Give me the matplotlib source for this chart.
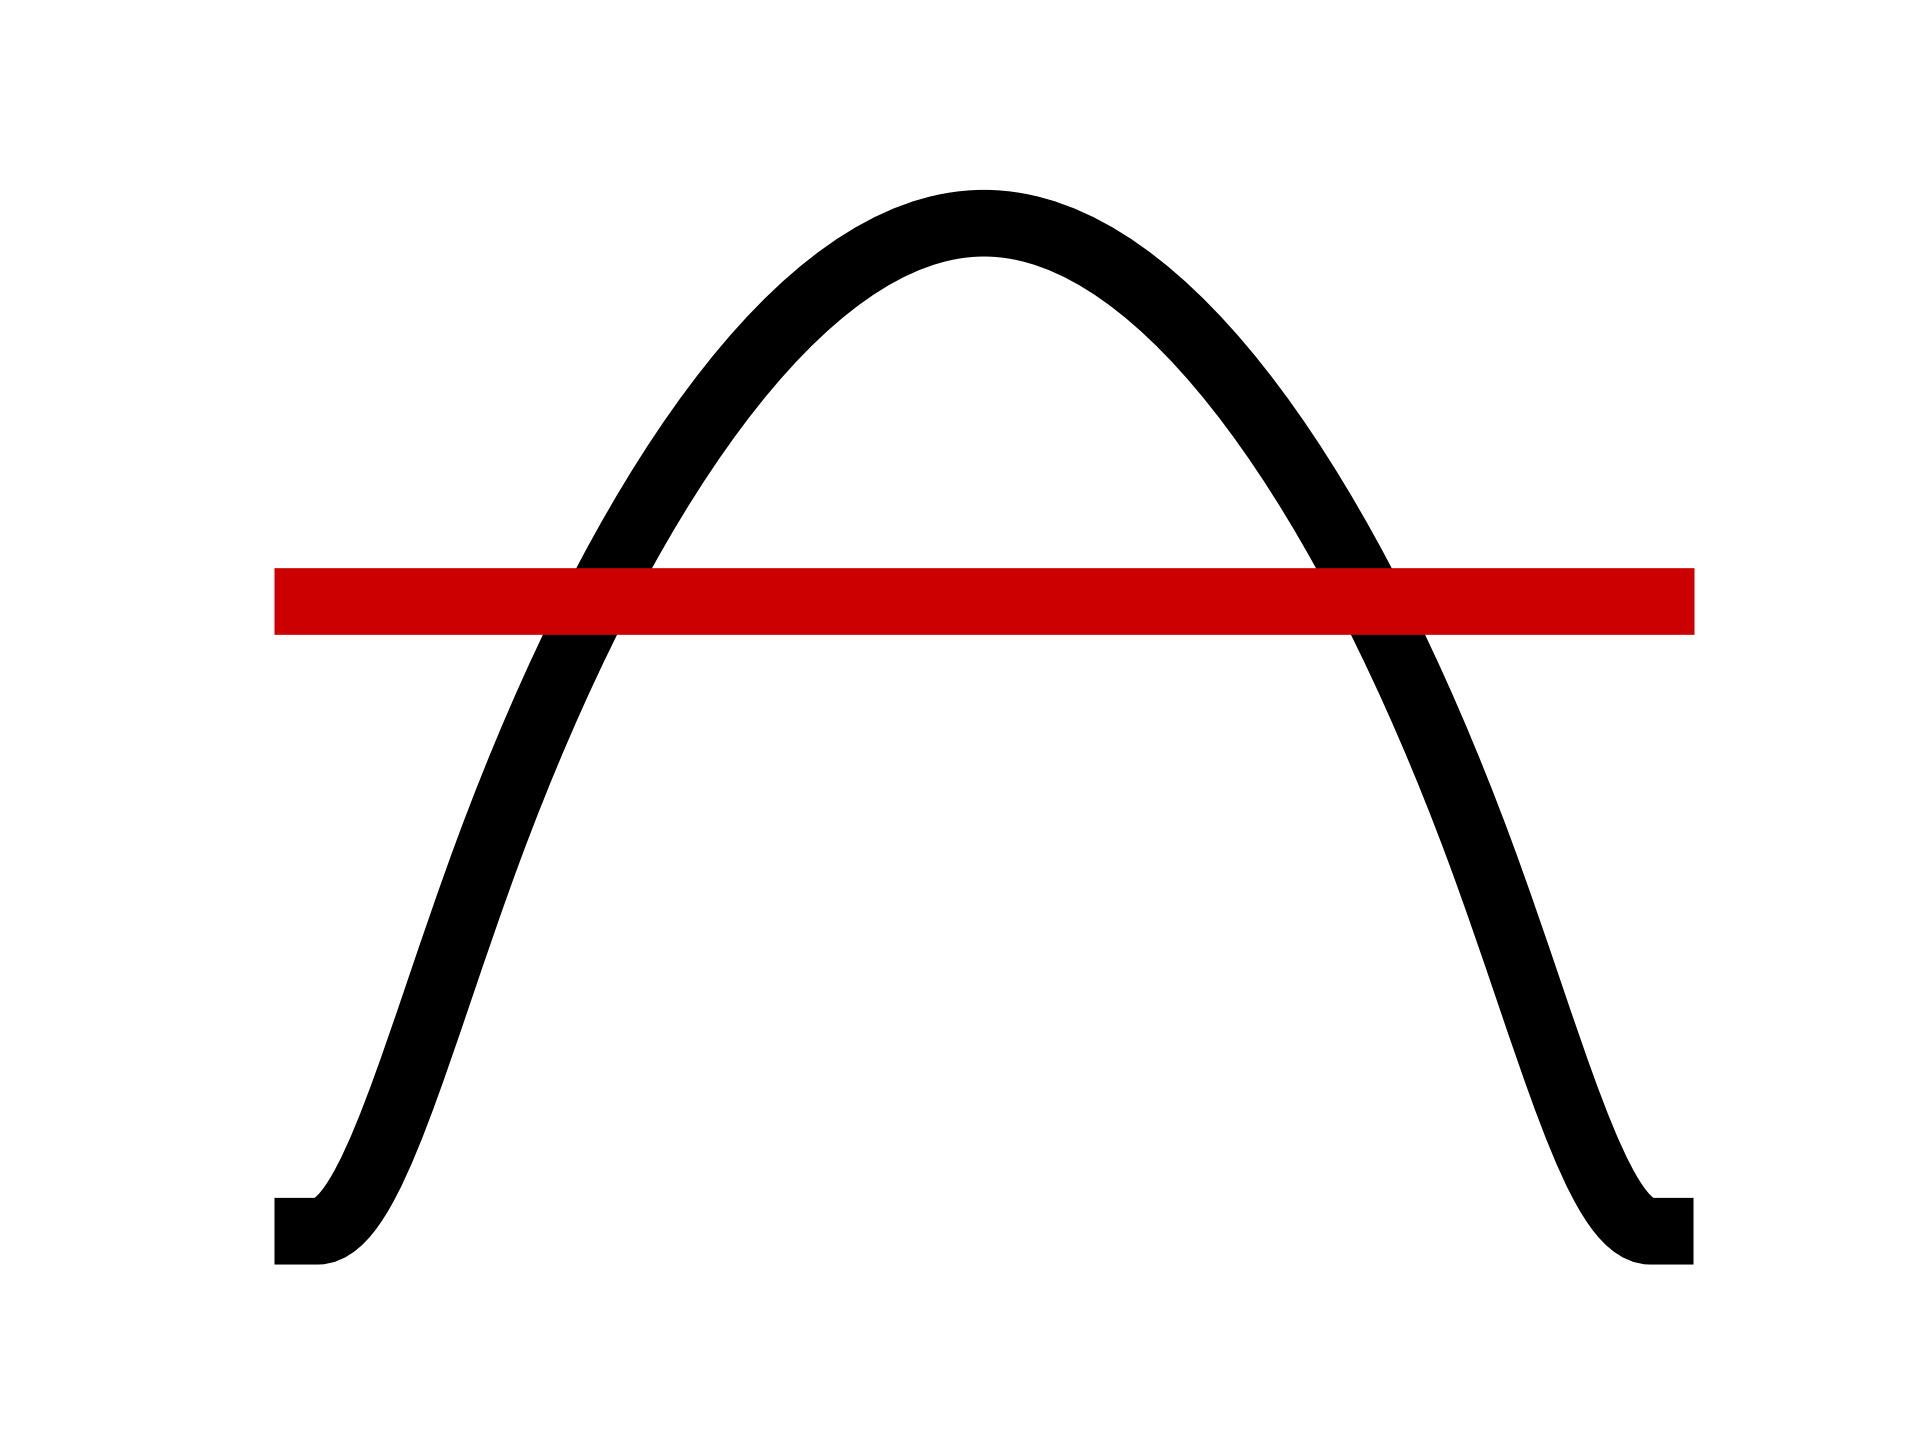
#!/usr/bin/env python3
"""Bump curve with a red threshold bar across it."""
import sys
import matplotlib
matplotlib.use("Agg")
import matplotlib.pyplot as plt
from matplotlib.path import Path
from matplotlib.patches import PathPatch

# Bump outline: a flat lead-in, two cubic pieces up to the crest, mirrored down.
curve_x = [0.0, 0.03, 0.068, 0.1008, 0.1508, 0.2408, 0.37, 0.5,
           0.63, 0.7592, 0.8492, 0.8992, 0.932, 0.97, 1.0]
curve_y = [0.0, 0.0, 0.0, 0.188, 0.378, 0.72, 1.0, 1.0,
           1.0, 0.72, 0.378, 0.188, 0.0, 0.0, 0.0]
curve_codes = ([Path.MOVETO, Path.LINETO] + [Path.CURVE4] * 12 + [Path.LINETO])

# Threshold bar
level_x = [0.0, 1.0]
level_y = [0.625, 0.625]


def main():
    fig, ax = plt.subplots(figsize=(6.4, 4.8), dpi=300)

    path = Path(list(zip(curve_x, curve_y)), curve_codes)
    ax.add_patch(PathPatch(path, fill=False, edgecolor="black", lw=16,
                           capstyle="butt", clip_on=False))
    ax.plot(level_x, level_y, color="#cc0000", lw=16,
            solid_capstyle="butt", clip_on=False)

    ax.set_xlim(-0.0243, 1.0243)
    ax.set_ylim(-0.05, 1.05)
    ax.axis("off")

    fig.savefig("out.png", dpi=300, facecolor="white")
    return 0


if __name__ == "__main__":
    sys.exit(main())
